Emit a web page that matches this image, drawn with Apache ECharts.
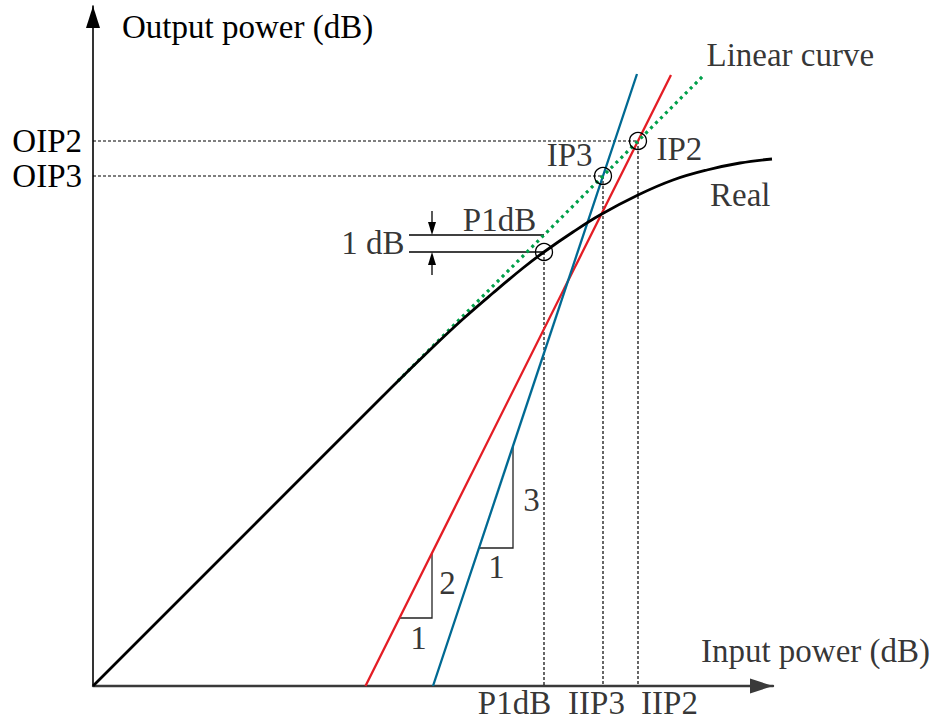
<!DOCTYPE html>
<html>
<head>
<meta charset="utf-8">
<title>Amplifier nonlinearity: P1dB, IP2 and IP3</title>
<script src="https://cdn.jsdelivr.net/npm/echarts@6/dist/echarts.min.js"></script>
<style>
  html, body { margin: 0; padding: 0; background: #fff; }
  #chart { width: 941px; height: 719px; }
</style>
</head>
<body>
<div id="chart"></div>
<script>
// Input and output power on a common dB scale (arbitrary reference, same step on both axes)

// Measured transfer characteristic: linear at low drive, compressing at high drive
const realCurve = [
  [0, 0], [150, 150], [300, 300], [340, 339], [370, 367], [400, 393], [430, 418],
  [451, 434], [480, 454], [507, 471], [545, 491], [580, 506],
  [614, 516], [647, 523], [679, 527]
];
// Ideal small-signal gain (slope 1)
const linearCurve = [[305, 305], [610, 610]];
// Second-order product (slope 2) and third-order product (slope 3)
const secondOrder = [[272.5, 0], [578, 611]];
const thirdOrder = [[340, 0], [544, 612]];

// Characteristic points [input, output]
const p1dB = [451, 434];
const ip3 = [510, 510];
const ip2 = [545, 545];
// Linear output at the P1dB input: 1 dB above the real output
const p1dBLinear = 451;

// Slope triangles: start on the line, corner, end on the line
const slope2Triangle = [[306, 68], [339, 68], [339, 133]];
const slope3Triangle = [[386, 138], [420, 138], [420, 240]];
const slope2Labels = ['1', '2'];
const slope3Labels = ['1', '3'];

// 1 dB marker: left end of the reference lines, arrow position, arrow tails
const dbMarkerX = [316, 339];
const dbArrowTails = [475, 411];

// Axis tick labels
const xTickValues = [p1dB[0], ip3[0], ip2[0]];
const xTickLabels = ['P1dB', 'IIP3', 'IIP2'];
const yTickValues = [ip3[1], ip2[1]];
const yTickLabels = ['OIP3', 'OIP2'];

const FONT = 'Liberation Serif';
const FS = 33;
const txt = { fontFamily: FONT, fontSize: FS, color: '#000' };

const chart = echarts.init(document.getElementById('chart'), null, { renderer: 'svg' });

// Text annotations anchored to points of the plot
function note(point, text, align, pos, lineHeight) {
  return {
    value: point,
    label: {
      show: true, formatter: text, position: pos, align: align,
      verticalAlign: 'middle', lineHeight: lineHeight || 36, ...txt
    }
  };
}
// horizontal shift of each input tick label relative to its guide line
const xTickShift = [-29, -6, 32];
const notes = [
  note([680, 0], 'Input power (dB)', 'center', [43, -35]),
  note(linearCurve[1], 'Linear curve', 'left', [4, -21]),
  note(realCurve[realCurve.length - 1], 'Real', 'right', [-1, 36]),
  note(ip3, 'IP3', 'right', [-10, -21]),
  note(ip2, 'IP2', 'left', [19, 8]),
  note(p1dB, 'P1dB', 'center', [-44, -32]),
  note([dbMarkerX[0], (p1dBLinear + p1dB[1]) / 2], '1 dB', 'right', [-4, 0]),
  note(slope2Triangle[1], slope2Labels[0], 'center', [-13, 20]),
  note(slope2Triangle[1], slope2Labels[1], 'center', [16, -35]),
  note(slope3Triangle[1], slope3Labels[0], 'center', [-16, 19]),
  note(slope3Triangle[1], slope3Labels[1], 'center', [19, -48]),
  ...xTickValues.map((v, i) => note([v, 0], xTickLabels[i], 'center', [xTickShift[i], 17], 26))
];

const option = {
  animation: false,
  backgroundColor: '#fff',
  grid: { left: 93, right: 168, top: 6, bottom: 33, containLabel: false, outerBoundsMode: 'none' },
  xAxis: {
    type: 'value', min: 0, max: 680,
    axisLine: {
      show: true, onZero: false, symbol: ['none', 'triangle'], symbolSize: [15, 23],
      symbolOffset: [0, -11.5], lineStyle: { color: '#3a3a3a', width: 2.4 }
    },
    axisTick: { show: false },
    splitLine: { show: false },
    axisLabel: { show: false }
  },
  yAxis: {
    type: 'value', min: 0, max: 680,
    name: 'Output power (dB)', nameLocation: 'end', nameGap: -21, nameMoveOverlap: false,
    nameTextStyle: { ...txt, align: 'left', verticalAlign: 'middle', padding: [0, 0, 0, 29] },
    axisLine: {
      show: true, onZero: false, symbol: ['none', 'triangle'], symbolSize: [14, 22],
      symbolOffset: [0, -11], lineStyle: { color: '#000', width: 1.6 }
    },
    axisTick: { show: false },
    splitLine: { show: false },
    axisLabel: {
      show: true, margin: 11, customValues: yTickValues, hideOverlap: false, ...txt,
      formatter: v => yTickLabels[yTickValues.indexOf(v)]
    }
  },
  series: [
    {
      // dotted guides from the characteristic points to both axes
      type: 'lines', coordinateSystem: 'cartesian2d', polyline: true, silent: true, z: 1,
      lineStyle: { color: '#000', width: 1.2, type: [3, 2], opacity: 1 },
      data: [
        { coords: [[0, ip2[1]], ip2, [ip2[0], 0]] },
        { coords: [[0, ip3[1]], ip3, [ip3[0], 0]] },
        { coords: [p1dB, [p1dB[0], 0]] }
      ]
    },
    {
      // 1 dB reference lines
      type: 'lines', coordinateSystem: 'cartesian2d', polyline: true, silent: true, z: 2,
      lineStyle: { color: '#000', width: 1.3, opacity: 1 },
      data: [
        { coords: [[dbMarkerX[0], p1dBLinear], [p1dB[0], p1dBLinear]] },
        { coords: [[dbMarkerX[0], p1dB[1]], p1dB] }
      ]
    },
    {
      // slope triangles
      type: 'lines', coordinateSystem: 'cartesian2d', polyline: true, silent: true, z: 2,
      lineStyle: { color: '#222', width: 1.3, opacity: 1 },
      data: [{ coords: slope2Triangle }, { coords: slope3Triangle }]
    },
    {
      // 1 dB arrows pointing at the reference lines
      type: 'custom', coordinateSystem: 'cartesian2d', silent: true, z: 3,
      data: [
        [dbMarkerX[1], dbArrowTails[0], p1dBLinear],
        [dbMarkerX[1], dbArrowTails[1], p1dB[1]]
      ],
      renderItem: (params, api) => {
        const tail = api.coord([api.value(0), api.value(1)]);
        const tip = api.coord([api.value(0), api.value(2)]);
        const dir = Math.sign(tip[1] - tail[1]);
        const len = 13, half = 4;
        return {
          type: 'group',
          children: [
            { type: 'line', shape: { x1: tail[0], y1: tail[1], x2: tip[0], y2: tip[1] - dir * len },
              style: { stroke: '#000', lineWidth: 1.3 } },
            { type: 'polygon', shape: { points: [[tip[0], tip[1]], [tip[0] - half, tip[1] - dir * len], [tip[0] + half, tip[1] - dir * len]] },
              style: { fill: '#000' } }
          ]
        };
      }
    },
    {
      name: 'Second order', type: 'line', data: secondOrder, showSymbol: false, silent: true, z: 4,
      lineStyle: { color: '#e41d25', width: 2.3 }
    },
    {
      name: 'Third order', type: 'line', data: thirdOrder, showSymbol: false, silent: true, z: 4,
      lineStyle: { color: '#006a93', width: 2.3 }
    },
    {
      name: 'Linear curve', type: 'line', data: linearCurve, showSymbol: false, silent: true, z: 5,
      lineStyle: { color: '#00a04a', width: 3.2, type: [3, 4], cap: 'butt' }
    },
    {
      name: 'Real', type: 'line', data: realCurve, showSymbol: false, silent: true, z: 5,
      smooth: 0.4,
      lineStyle: { color: '#000', width: 2.8 }
    },
    {
      // markers on the characteristic points
      type: 'scatter', data: [p1dB, ip3, ip2], symbol: 'circle', symbolSize: 17, silent: true, z: 6,
      itemStyle: { color: 'rgba(0,0,0,0)', borderColor: '#000', borderWidth: 1.3, opacity: 1 }
    },
    {
      // text annotations
      type: 'scatter', data: notes, symbolSize: 1, silent: true, z: 7,
      itemStyle: { color: 'rgba(0,0,0,0)' }
    }
  ]
};

chart.setOption(option);
</script>
</body>
</html>
